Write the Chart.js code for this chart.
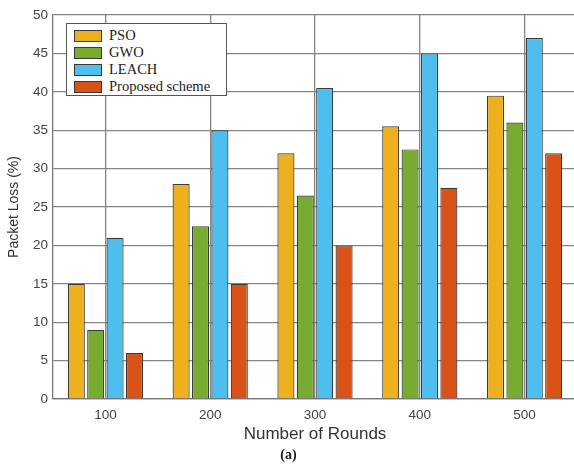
<!DOCTYPE html>
<html>
<head>
<meta charset="utf-8">
<script src="https://cdn.jsdelivr.net/npm/chart.js@4"></script>
<style>
  html, body { margin: 0; padding: 0; background: #fff; overflow: hidden; }
  #wrap { position: relative; width: 577px; height: 468px; }
  #legend {
    position: absolute; left: 66px; top: 23px; width: 161px; height: 73px;
    background: #fff; border: 1.5px solid #555; box-sizing: border-box;
    font-family: "Liberation Serif", "Times New Roman", serif; font-size: 14.5px; color: #222;
    padding: 3px 0 0 7px;
  }
  .item { height: 17px; display: flex; align-items: center; }
  .sw { width: 28px; height: 12px; border: 1.5px solid #3a3a3a; box-sizing: border-box; margin-right: 7px; }
</style>
</head>
<body>
<div id="wrap">
  <canvas id="c" width="577" height="468"></canvas>
  <div id="legend"></div>
</div>
<script>
// Packet loss per number of rounds for each routing scheme
const rounds = ['100', '200', '300', '400', '500'];
const seriesNames = ['PSO', 'GWO', 'LEACH', 'Proposed scheme'];
const pso = [15, 28, 32, 35.5, 39.5];
const gwo = [9, 22.5, 26.5, 32.5, 36];
const leach = [21, 35, 40.5, 45, 47];
const proposed = [6, 15, 20, 27.5, 32];
const yTicks = [0, 5, 10, 15, 20, 25, 30, 35, 40, 45, 50];

const colors = ['#EDB120', '#77AC30', '#4DBEEE', '#D95319'];
const values = [pso, gwo, leach, proposed];

const datasets = seriesNames.map((name, i) => ({
  label: name,
  data: values[i],
  backgroundColor: colors[i],
  borderColor: '#3a3a3a',
  borderWidth: 1.2,
  barPercentage: 0.88,
  categoryPercentage: 0.74
}));

// legend drawn as HTML inside the plot area
const legend = document.getElementById('legend');
seriesNames.forEach((name, i) => {
  const row = document.createElement('div');
  row.className = 'item';
  const sw = document.createElement('span');
  sw.className = 'sw';
  sw.style.background = colors[i];
  const t = document.createElement('span');
  t.textContent = name;
  row.appendChild(sw);
  row.appendChild(t);
  legend.appendChild(row);
});

const sans = 'Liberation Sans, Arial, sans-serif';
const tickFont = { family: sans, size: 13.5 };

new Chart(document.getElementById('c'), {
  type: 'bar',
  data: { labels: rounds, datasets },
  options: {
    responsive: false,
    animation: false,
    layout: { padding: { top: 15, left: 0, right: 0, bottom: 4 } },
    plugins: {
      legend: { display: false },
      tooltip: { enabled: false },
      subtitle: {
        display: true,
        text: '(a)',
        position: 'bottom',
        color: '#222',
        font: { family: 'Liberation Serif, Times New Roman, serif', size: 14, weight: 'bold' },
        padding: { top: 0, bottom: 0 }
      }
    },
    scales: {
      x: {
        afterFit: (s) => { s.height = 48.2; },
        grid: { offset: false, color: '#858585', lineWidth: 1.3, drawTicks: false },
        border: { color: '#777', width: 1.3 },
        ticks: { color: '#444', font: tickFont, padding: 8 },
        title: {
          display: true, text: 'Number of Rounds', color: '#333',
          font: { family: sans, size: 17 },
          padding: { top: 0, bottom: 3 }
        }
      },
      y: {
        min: 0, max: 50,
        afterFit: (s) => { s.width = 53; },
        afterBuildTicks: (axis) => { axis.ticks = yTicks.map(v => ({ value: v })); },
        grid: { color: '#858585', lineWidth: 1.3, drawTicks: false },
        border: { color: '#777', width: 1.3 },
        ticks: { color: '#444', font: tickFont, padding: 5 },
        title: {
          display: true, text: 'Packet Loss (%)', color: '#333',
          font: { family: sans, size: 14 },
          padding: { top: 6, bottom: 0 }
        }
      }
    }
  }
});
</script>
</body>
</html>
